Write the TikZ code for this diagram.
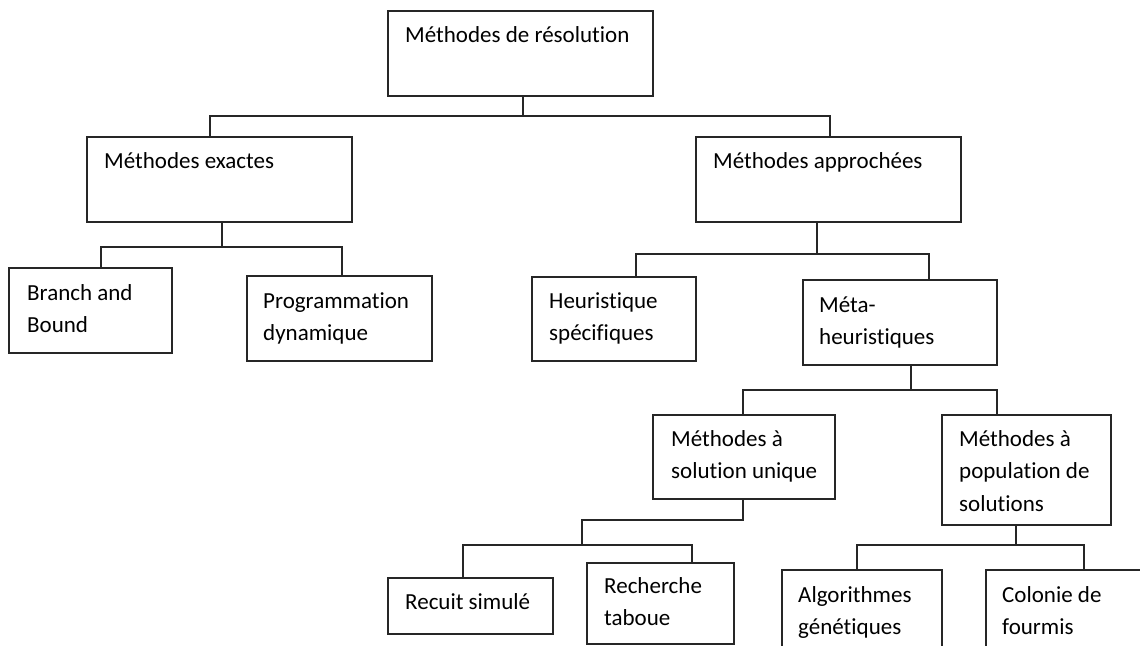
\documentclass[tikz,border=0pt]{standalone}
\usepackage{fontspec}
\setmainfont[Ligatures=NoCommon]{Carlito}
\begin{document}
\begin{tikzpicture}[x=1pt,y=-1pt,
  box/.style={draw=black!85, line width=1.6pt, inner sep=0pt, outer sep=0pt, anchor=north west},
  txt/.style={anchor=base west, inner sep=0pt, font=\fontsize{23}{32.5}\selectfont, text=black},
  conn/.style={draw=black!85, line width=1.5pt}]
\useasboundingbox (0,0) rectangle (1140,645);
\clip (0,0) rectangle (1140,645);
\newcommand{\lines}[1]{\begin{tabular}[t]{@{}l@{}}#1\end{tabular}}
% boxes
\node[box, minimum width=265pt, minimum height=85pt] (root) at (388,11) {};
\node[box, minimum width=265pt, minimum height=85pt] (exact) at (87,137) {};
\node[box, minimum width=265pt, minimum height=85pt] (appr) at (696,137) {};
\node[box, minimum width=163pt, minimum height=85pt] (branch) at (9,268) {};
\node[box, minimum width=185pt, minimum height=85pt] (prog) at (247,276) {};
\node[box, minimum width=164pt, minimum height=84pt] (heur) at (532,277) {};
\node[box, minimum width=194pt, minimum height=85pt] (meta) at (803,280) {};
\node[box, minimum width=182pt, minimum height=84pt] (unique) at (653,415) {};
\node[box, minimum width=169pt, minimum height=110pt] (pop) at (942,415) {};
\node[box, minimum width=165pt, minimum height=56pt] (recuit) at (388,578) {};
\node[box, minimum width=147pt, minimum height=81pt] (recherche) at (587,563) {};
\node[box, minimum width=160pt, minimum height=90pt] (algo) at (782,570) {};
\node[box, minimum width=160pt, minimum height=90pt] (colonie) at (986,570) {};
% texts
\node[txt] (troot) at ([shift={(17,31)}]root.north west) {Méthodes de résolution};
\node[txt] (texact) at ([shift={(17,31)}]exact.north west) {Méthodes exactes};
\node[txt] (tappr) at ([shift={(17,31)}]appr.north west) {Méthodes approchées};
\node[txt] (tbranch) at ([shift={(18,32)}]branch.north west) {\lines{Branch and\\Bound}};
\node[txt] (tprog) at ([shift={(16,32)}]prog.north west) {\lines{Programmation\\dynamique}};
\node[txt] (theur) at ([shift={(17,31)}]heur.north west) {\lines{Heuristique\\spécifiques}};
\node[txt] (tmeta) at ([shift={(16,32)}]meta.north west) {\lines{Méta-\\heuristiques}};
\node[txt] (tunique) at ([shift={(18,31)}]unique.north west) {\lines{Méthodes à\\solution unique}};
\node[txt] (tpop) at ([shift={(17,31)}]pop.north west) {\lines{Méthodes à\\population de\\solutions}};
\node[txt] (trecuit) at ([shift={(17,31)}]recuit.north west) {Recuit simulé};
\node[txt] (trecherche) at ([shift={(17,30)}]recherche.north west) {\lines{Recherche\\taboue}};
\node[txt] (talgo) at ([shift={(16,32)}]algo.north west) {\lines{Algorithmes\\génétiques}};
\node[txt] (tcolonie) at ([shift={(16,32)}]colonie.north west) {\lines{Colonie de\\fourmis}};
% connectors
\draw[conn] ([xshift=2.5pt]root.south) -- ++(0,20) -| ([xshift=-9.5pt]exact.north);
\draw[conn] ([xshift=2.5pt]root.south) -- ++(0,20) -| ([xshift=1.5pt]appr.north);
\draw[conn] ([xshift=2.5pt]exact.south) -- ++(0,25) -| ([xshift=10.5pt]branch.north);
\draw[conn] ([xshift=2.5pt]exact.south) -- ++(0,25) -| ([xshift=2.5pt]prog.north);
\draw[conn] ([xshift=-11.5pt]appr.south) -- ++(0,32) -| ([xshift=22pt]heur.north);
\draw[conn] ([xshift=-11.5pt]appr.south) -- ++(0,32) -| ([xshift=29pt]meta.north);
\draw[conn] ([xshift=11pt]meta.south) -- ++(0,25) -| ([xshift=-1pt]unique.north);
\draw[conn] ([xshift=11pt]meta.south) -- ++(0,25) -| ([xshift=-29.5pt]pop.north);
\coordinate (sj) at (582,545);
\draw[conn] ([xshift=-1pt]unique.south) -- ++(0,21) -| (sj) -| ([xshift=-7.5pt]recuit.north);
\draw[conn] (sj) -| ([xshift=31.5pt]recherche.north);
\draw[conn] ([xshift=-10.5pt]pop.south) -- ++(0,20) -| ([xshift=-5pt]algo.north);
\draw[conn] ([xshift=-10.5pt]pop.south) -- ++(0,20) -| ([xshift=18pt]colonie.north);
\end{tikzpicture}
\end{document}
